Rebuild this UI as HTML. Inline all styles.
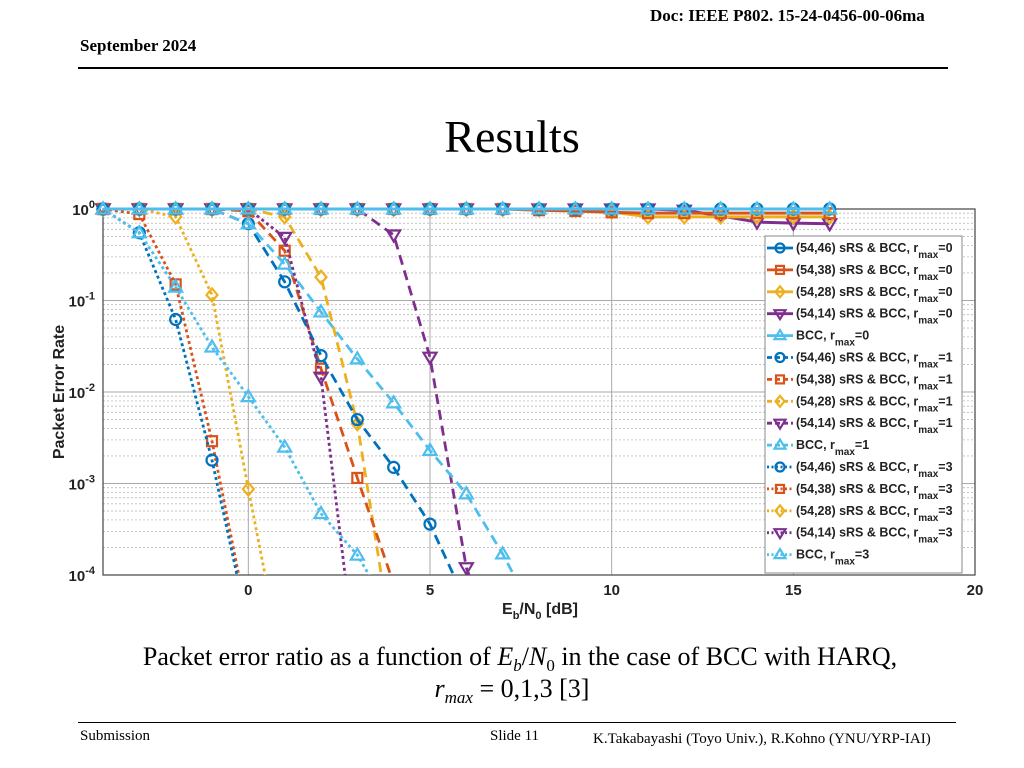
<!DOCTYPE html>
<html><head><meta charset="utf-8"><style>
body{margin:0;width:1024px;height:768px;background:#fff;position:relative;overflow:hidden;font-family:"Liberation Serif",serif}
.t{position:absolute;white-space:nowrap;color:#000}
</style></head><body>
<div class="t" style="left:80px;top:36px;font-size:17px;font-weight:bold">September 2024</div>
<div class="t" style="left:650px;top:6px;font-size:17px;font-weight:bold">Doc: IEEE P802. 15-24-0456-00-06ma</div>
<div style="position:absolute;left:78px;top:67px;width:870px;height:2px;background:#000"></div>
<div class="t" style="left:0;width:1024px;text-align:center;top:110px;font-size:46px">Results</div>
<svg id="chart" width="1024" height="640" style="position:absolute;left:0;top:0"></svg>
<div class="t" style="left:0;width:1040px;text-align:center;top:642px;font-size:26px">Packet error ratio as a function of <i>E<sub style="font-size:17px">b</sub></i>/<i>N</i><sub style="font-size:17px">0</sub> in the case of BCC with HARQ,</div>
<div class="t" style="left:0;width:1024px;text-align:center;top:674px;font-size:26px"><i>r<sub style="font-size:17px">max</sub></i> = 0,1,3 [3]</div>
<div style="position:absolute;left:78px;top:722px;width:878px;height:1px;background:#000"></div>
<div class="t" style="left:80px;top:728px;font-size:15px">Submission</div>
<div class="t" style="left:490px;top:728px;font-size:15px">Slide 11</div>
<div class="t" style="left:593px;top:731px;font-size:15px">K.Takabayashi (Toyo Univ.), R.Kohno (YNU/YRP-IAI)</div>
<script>
const xs0=[-4,-3,-2,-1,0,1,2,3,4,5,6,7,8,9,10,11,12,13,14,15,16];
const r0_46=[1,1,1,1,1,1,1,1,1,1,1,1,1,1,1,1,1,1,1,1,1];
const r0_38=[1,1,1,1,1,1,1,1,1,1,1,1,0.97,0.95,0.92,0.9,0.9,0.9,0.9,0.9,0.9];
const r0_28=[1,1,1,1,1,1,1,1,1,1,1,1,1,1,0.93,0.82,0.82,0.82,0.82,0.82,0.82];
const r0_14=[1,1,1,1,1,1,1,1,1,1,1,1,1,1,1,1,0.97,0.84,0.72,0.7,0.69];
const r0_bcc=[1,1,1,1,1,1,1,1,1,1,1,1,1,1,1,1,1,1,1,1,1];
const xs1=[-4,-3,-2,-1,0,1,2,3,4,5,6,7,8];
const r1_46=[1,1,1,1,0.69,0.16,0.025,0.005,0.0015,0.00036,0.00005,null,null];
const r1_38=[1,1,1,1,0.95,0.35,0.018,0.00115,0.00008,null,null,null,null];
const r1_28=[1,1,1,1,1,0.82,0.18,0.0045,0.000014,null,null,null,null];
const r1_14=[1,1,1,1,1,1,1,1,0.52,0.024,0.00012,0.00001,null];
const r1_bcc=[1,1,1,1,0.69,0.25,0.075,0.023,0.0076,0.0023,0.00077,0.00017,0.00003];
const xs3=[-4,-3,-2,-1,0,1,2,3,4];
const r3_46=[1,0.55,0.062,0.0018,0.000027,null,null,null,null];
const r3_38=[1,0.88,0.15,0.0029,0.00003,null,null,null,null];
const r3_28=[1,1,0.82,0.115,0.00087,0.000008,null,null,null];
const r3_14=[1,1,1,1,1,0.49,0.0145,0.000008,null];
const r3_bcc=[1,0.55,0.14,0.031,0.0089,0.0025,0.00047,0.000165,0.000035];
const xTicks=[0,5,10,15,20];
const yTicks=[0,-1,-2,-3,-4];
const legendLabels=["(54,46) sRS & BCC, r","(54,38) sRS & BCC, r","(54,28) sRS & BCC, r","(54,14) sRS & BCC, r","BCC, r"];
const rmaxVals=["0","1","3"];

const L=103,R=975,T=209,B=575,XMIN=-4,XMAX=20;
const X=v=>L+(v-XMIN)/(XMAX-XMIN)*(R-L);
const Y=v=>T+(-Math.log10(v))/4*(B-T);
const svg=document.getElementById('chart');
const NS='http://www.w3.org/2000/svg';
function mk(tag,attrs,parent){const e=document.createElementNS(NS,tag);for(const k in attrs)e.setAttribute(k,attrs[k]);(parent||svg).appendChild(e);return e;}
const cols=['#0072BD','#D95319','#EDB120','#7E2F8E','#4DBEEE'];
const mks=['o','s','d','v','^'];
const dashes={0:'none',1:'10,6',3:'3,3'};

const bg=mk('rect',{x:L,y:T,width:R-L,height:B-T,fill:'#fff'});


for(let d=0;d<4;d++){for(let m=2;m<=9;m++){const y=Y(Math.pow(10,-d-1)*m);
const g=mk('line',{x1:L,x2:R,y1:y,y2:y,stroke:'#bbb','stroke-width':0.8,'stroke-dasharray':'2,2'});

}}
yTicks.forEach(t=>{const y=Y(Math.pow(10,t));
const g=mk('line',{x1:L,x2:R,y1:y,y2:y,stroke:'#aaa','stroke-width':1});


const tx=mk('text',{x:L-8,y:y+6,'text-anchor':'end','font-family':'Liberation Sans, sans-serif','font-weight':'bold','font-size':15,fill:'#222'});


tx.innerHTML='10<tspan dy="-7" font-size="11">'+t+'</tspan>';});
xTicks.forEach(t=>{const x=X(t);
const g=mk('line',{x1:x,x2:x,y1:T,y2:B,stroke:'#aaa','stroke-width':1});


const tx=mk('text',{x:x,y:B+20,'text-anchor':'middle','font-family':'Liberation Sans, sans-serif','font-weight':'bold','font-size':15,fill:'#222'});


tx.textContent=t;});
const ax=mk('rect',{x:L,y:T,width:R-L,height:B-T,fill:'none',stroke:'#444','stroke-width':1.2});


const xl=mk('text',{x:540,y:614,'text-anchor':'middle','font-family':'Liberation Sans, sans-serif','font-weight':'bold','font-size':16,fill:'#222'});


xl.innerHTML='E<tspan dy="5" font-size="11">b</tspan><tspan dy="-5">/N</tspan><tspan dy="5" font-size="11">0</tspan><tspan dy="-5"> [dB]</tspan>';
const yl=mk('text',{x:0,y:0,transform:'translate(64,392) rotate(-90)','text-anchor':'middle','font-family':'Liberation Sans, sans-serif','font-weight':'bold','font-size':16,fill:'#222'});


yl.textContent='Packet Error Rate';

const defs=mk('defs',{});
const cp=mk('clipPath',{id:'cp'},defs);mk('rect',{x:L-10,y:T-15,width:R-L+20,height:B-T+15},cp);

function marker(g,type,x,y,c,s){let e;
if(type==='o')e=mk('circle',{cx:x,cy:y,r:s},g);
else if(type==='s')e=mk('rect',{x:x-s+0.5,y:y-s+0.5,width:2*s-1,height:2*s-1},g);
else if(type==='d')e=mk('polygon',{points:`${x},${y-s-1} ${x+s},${y} ${x},${y+s+1} ${x-s},${y}`},g);
else if(type==='v')e=mk('polygon',{points:`${x-s-1},${y-s+1} ${x+s+1},${y-s+1} ${x},${y+s+1}`},g);
else e=mk('polygon',{points:`${x-s-1},${y+s-1} ${x+s+1},${y+s-1} ${x},${y-s-1}`},g);
e.setAttribute('fill','none');e.setAttribute('stroke',c);e.setAttribute('stroke-width',2.2);

}

const groups=[[0,xs0,[r0_46,r0_38,r0_28,r0_14,r0_bcc]],[1,xs1,[r1_46,r1_38,r1_28,r1_14,r1_bcc]],[3,xs3,[r3_46,r3_38,r3_28,r3_14,r3_bcc]]];
const order=[3,2,1,0,4];
[groups[1],groups[2],groups[0]].forEach(([r,xs,series])=>{
 order.forEach(i=>{const ys=series[i];const g=mk('g',{'clip-path':'url(#cp)'});
 
 
 const pts=[];xs.forEach((x,k)=>{if(ys[k]!=null)pts.push([X(x),Y(ys[k])]);});
 const pl=mk('polyline',{points:pts.map(p=>p.join(',')).join(' '),fill:'none',stroke:cols[i],'stroke-width':r===0?3:2.8,'stroke-dasharray':dashes[r]},g);
 
 
 pts.forEach(p=>{if(p[1]<=B+3)marker(g,mks[i],p[0],p[1],cols[i],5.5);});});});

const lg=mk('g',{});


mk('rect',{x:765,y:236,width:197,height:337,fill:'#fff',stroke:'#888','stroke-width':1},lg);
let row=0;
rmaxVals.forEach((rv,ri)=>{for(let i=0;i<5;i++){const y=248+row*21.9;
 const e=mk('g',{},lg);
 
 
 mk('line',{x1:767,x2:793,y1:y,y2:y,stroke:cols[i],'stroke-width':2.8,'stroke-dasharray':ri===0?'none':(ri===1?'5,3':'2,2.5')},e);
 marker(e,mks[i],780,y,cols[i],4.5);
 const t=mk('text',{x:796,y:y+4,'font-family':'Liberation Sans, sans-serif','font-weight':'bold','font-size':12.5,fill:'#222'},e);
 t.innerHTML=legendLabels[i]+'<tspan dy="6" font-size="10">max</tspan><tspan dy="-6">='+rv+'</tspan>';
 row++;}});
</script>
</body></html>
